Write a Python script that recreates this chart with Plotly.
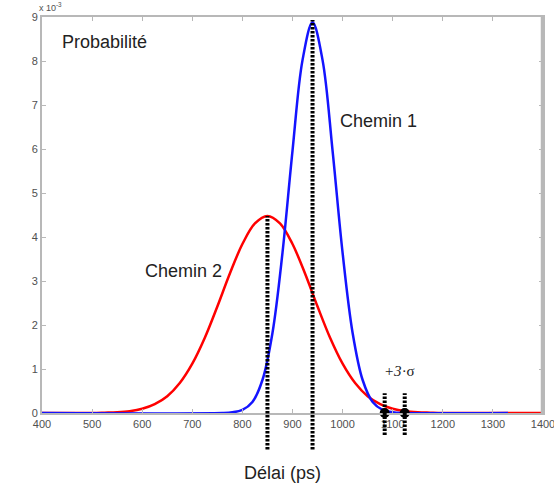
import plotly.graph_objects as go

# ---- data ----
x_chemin1 = [400, 760, 780, 800, 820, 840, 860, 880, 900, 920, 940, 960, 980,
             1000, 1020, 1040, 1060, 1080, 1100, 1120, 1330]
y_chemin1 = [0, 0, 0.016, 0.07, 0.25, 0.75, 1.82, 3.64, 5.96, 8.02, 8.88, 8.02,
             5.96, 3.64, 1.82, 0.75, 0.25, 0.07, 0.016, 0, 0]

x_chemin2 = [400, 500, 525, 550, 575, 600, 625, 650, 675, 700, 725, 750, 775,
             800, 825, 850, 875, 900, 925, 950, 975, 1000, 1025, 1050, 1075,
             1100, 1125, 1150, 1175, 1200, 1400]
y_chemin2 = [0, 0, 0.007, 0.017, 0.042, 0.095, 0.20, 0.38, 0.68, 1.12, 1.71,
             2.42, 3.17, 3.84, 4.31, 4.48, 4.31, 3.84, 3.17, 2.42, 1.71, 1.12,
             0.68, 0.38, 0.20, 0.095, 0.042, 0.017, 0.007, 0, 0]

peak_x = [850, 940]
peak_y = [4.48, 8.93]
sigma3_x = [1084, 1124]

x_ticks = [400, 500, 600, 700, 800, 900, 1000, 1100, 1200, 1300, 1400]
y_ticks = [0, 1, 2, 3, 4, 5, 6, 7, 8, 9]

Y_MAX = 9
AX = "#b8b8b8"
TICKFONT = dict(family="Liberation Sans, Arial", size=11, color="#505050")

L, R, T, B = 41.7, 543.0, 17.0, 412.7


def px2paper(px, py):
    return (px - L) / (R - L), 1 - (py - T) / (B - T)


fig = go.Figure()
fig.add_trace(go.Scatter(x=x_chemin2, y=y_chemin2, mode="lines", line_shape="spline",
                         line=dict(color="rgb(255,0,0)", width=2.5), showlegend=False))
fig.add_trace(go.Scatter(x=x_chemin1, y=y_chemin1, mode="lines", line_shape="spline",
                         line=dict(color="rgb(20,20,255)", width=2.5), showlegend=False))

# right border of the plot frame
fig.add_shape(type="line", xref="x", yref="paper", x0=1400, x1=1400, y0=0, y1=1,
              line=dict(color=AX, width=2.5), layer="above")
fig.add_shape(type="line", xref="paper", yref="paper", x0=0.998, x1=0.998, y0=0, y1=1,
              line=dict(color=AX, width=2.5), layer="above")

DOT = "2.5px,1.5px"
# dotted vertical lines at the peaks (extend below the axis)
for px, py in zip(peak_x, peak_y):
    fig.add_shape(type="line", xref="x", yref="paper", x0=px, x1=px,
                  y0=-0.83 / Y_MAX, y1=py / Y_MAX,
                  line=dict(color="black", width=4, dash=DOT), layer="above")
# +3 sigma markers
for sx in sigma3_x:
    fig.add_shape(type="line", xref="x", yref="paper", x0=sx, x1=sx,
                  y0=-0.5 / Y_MAX, y1=0.45 / Y_MAX,
                  line=dict(color="black", width=4, dash=DOT), layer="above")
fig.add_trace(go.Scatter(x=sigma3_x, y=[0] * len(sigma3_x), mode="markers",
                         marker=dict(color="black", size=10), cliponaxis=False,
                         showlegend=False))

ann_font = dict(family="Liberation Sans, Arial", size=18, color="#222222")


def note(px, py, text, font, xanchor="left"):
    x, y = px2paper(px, py)
    fig.add_annotation(x=x, y=y, xref="paper", yref="paper", text=text,
                       showarrow=False, xanchor=xanchor, yanchor="middle", font=font)


note(60, 42, "Probabilité", ann_font)
note(338, 121, "Chemin 1", ann_font)
note(142.7, 271, "Chemin 2", ann_font)
note(399, 371, "<i>+3</i>\u00b7\u03c3",
     dict(family="Liberation Serif, Times New Roman", size=15, color="#222222"),
     xanchor="center")
note(282, 473, "Délai (ps)", ann_font, xanchor="center")
note(37, 7, "x 10<sup>-3</sup>",
     dict(family="Liberation Sans, Arial", size=9, color="#505050"))

fig.update_xaxes(range=[400, 1400], tickvals=x_ticks, ticktext=[str(v) for v in x_ticks],
                 showgrid=False, zeroline=False, showline=True, linecolor=AX, linewidth=2,
                 mirror="ticks", ticks="inside", ticklen=4, tickcolor=AX, tickwidth=1,
                 tickfont=TICKFONT, automargin=False, ticklabeloverflow="allow")
fig.update_yaxes(range=[0, Y_MAX], tickvals=y_ticks, ticktext=[str(v) for v in y_ticks],
                 showgrid=False, zeroline=False, showline=True, linecolor=AX, linewidth=2,
                 mirror="ticks", ticks="inside", ticklen=4, tickcolor=AX, tickwidth=1,
                 tickfont=TICKFONT, automargin=False, ticklabeloverflow="allow")

fig.update_layout(width=554, height=484, plot_bgcolor="white", paper_bgcolor="white",
                  margin=dict(l=42, r=11, t=17, b=71), showlegend=False)

fig.write_html("out.html")
